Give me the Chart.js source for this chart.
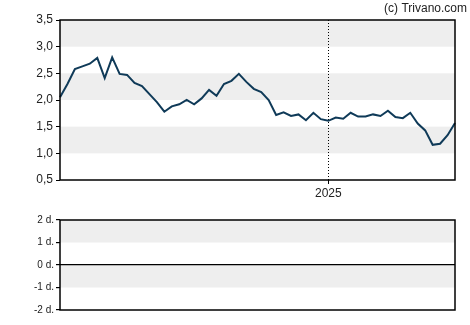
<!DOCTYPE html>
<html>
<head>
<meta charset="utf-8">
<script src="https://cdn.jsdelivr.net/npm/chart.js@4"></script>
<style>
  body { margin: 0; background: #fff; }
  #top { position: absolute; left: 0; top: 0; width: 470px; height: 200px; }
  #bottom { position: absolute; left: 0; top: 200px; width: 470px; height: 125px; }
</style>
</head>
<body>
<div id="top"><canvas id="priceChart"></canvas></div>
<div id="bottom"><canvas id="volChart"></canvas></div>
<script>
// weekly closes
const weeks = [
  '2024-04-22','2024-04-29','2024-05-06','2024-05-13','2024-05-20','2024-05-27','2024-06-03','2024-06-10',
  '2024-06-17','2024-06-24','2024-07-01','2024-07-08','2024-07-15','2024-07-22','2024-07-29','2024-08-05',
  '2024-08-12','2024-08-19','2024-08-26','2024-09-02','2024-09-09','2024-09-16','2024-09-23','2024-09-30',
  '2024-10-07','2024-10-14','2024-10-21','2024-10-28','2024-11-04','2024-11-11','2024-11-18','2024-11-25',
  '2024-12-02','2024-12-09','2024-12-16','2024-12-23','2025-01-06','2025-01-13','2025-01-20','2025-01-27',
  '2025-02-03','2025-02-10','2025-02-17','2025-02-24','2025-03-03','2025-03-10','2025-03-17','2025-03-24',
  '2025-03-31','2025-04-07','2025-04-14','2025-04-21','2025-04-28','2025-05-05'
];
const closes = [
  2.05, 2.30, 2.58, 2.63, 2.68, 2.79, 2.41, 2.80, 2.49, 2.47, 2.32, 2.26, 2.11, 1.96, 1.78, 1.88,
  1.92, 2.00, 1.92, 2.03, 2.19, 2.08, 2.30, 2.36, 2.49, 2.34, 2.21, 2.15, 2.00, 1.72, 1.77, 1.70,
  1.73, 1.62, 1.76, 1.64, 1.61, 1.67, 1.65, 1.76, 1.69, 1.69, 1.73, 1.70, 1.80, 1.68, 1.66, 1.76,
  1.56, 1.43, 1.16, 1.18, 1.34, 1.57
];
const priceTicks = [0.5, 1.0, 1.5, 2.0, 2.5, 3.0, 3.5];
const volTicks = [-2, -1, 0, 1, 2];

const yearIdx = weeks.findIndex(w => w.startsWith('2025'));
const FONT = 'Arial, "Liberation Sans", sans-serif';

const frame = {
  id: 'frame',
  beforeDraw(chart, args, opts) {
    const { ctx, chartArea: a, scales: { y } } = chart;
    const t = opts.ticks;
    ctx.save();
    ctx.fillStyle = '#eeeeee';
    for (let i = t.length - 1, k = 0; i > 0; i--, k++) {
      if (k % 2 === 0) {
        const y1 = y.getPixelForValue(t[i]);
        const y2 = y.getPixelForValue(t[i - 1]);
        ctx.fillRect(a.left, y1, a.right - a.left, y2 - y1);
      }
    }
    ctx.restore();
  },
  afterDraw(chart, args, opts) {
    const { ctx, chartArea: a } = chart;
    ctx.save();
    ctx.strokeStyle = '#000';
    ctx.lineWidth = 1.5;
    ctx.strokeRect(a.left, a.top, a.right - a.left, a.bottom - a.top);
    if (opts.credit) {
      ctx.fillStyle = '#222';
      ctx.font = '12px ' + FONT;
      ctx.textAlign = 'right';
      ctx.textBaseline = 'middle';
      ctx.fillText(opts.credit, 467, 9);
    }
    ctx.restore();
  }
};

new Chart(document.getElementById('priceChart'), {
  type: 'line',
  data: {
    labels: weeks,
    datasets: [{
      data: closes,
      borderColor: '#0f3a58',
      borderWidth: 2,
      pointRadius: 0,
      tension: 0
    }]
  },
  plugins: [frame],
  options: {
    responsive: true,
    maintainAspectRatio: false,
    animation: false,
    layout: { padding: { top: 20, right: 15, left: 0, bottom: 0 } },
    plugins: {
      legend: { display: false },
      tooltip: { enabled: false },
      frame: { ticks: priceTicks, credit: '(c) Trivano.com' }
    },
    scales: {
      x: {
        afterFit: s => { s.height = 20; },
        grid: {
          color: c => (c.index === yearIdx ? '#000' : 'transparent'),
          tickLength: 4
        },
        border: { display: false, dash: [1, 2] },
        ticks: {
          autoSkip: false,
          maxRotation: 0,
          padding: 2,
          color: '#222',
          font: { family: FONT, size: 12 },
          callback: (v, i) => (i === yearIdx ? weeks[i].slice(0, 4) : '')
        }
      },
      y: {
        min: 0.5,
        max: 3.5,
        afterFit: s => { s.width = 60; },
        afterBuildTicks: s => { s.ticks = priceTicks.map(v => ({ value: v })); },
        grid: { drawOnChartArea: false, color: '#000', tickLength: 4 },
        border: { display: false },
        ticks: {
          padding: 3,
          color: '#222',
          font: { family: FONT, size: 12 },
          callback: v => v.toFixed(1).replace('.', ',')
        }
      }
    }
  }
});

new Chart(document.getElementById('volChart'), {
  type: 'line',
  data: { labels: weeks, datasets: [{ data: [], borderWidth: 0 }] },
  plugins: [frame],
  options: {
    responsive: true,
    maintainAspectRatio: false,
    animation: false,
    layout: { padding: { top: 20, right: 15, left: 0, bottom: 15 } },
    plugins: {
      legend: { display: false },
      tooltip: { enabled: false },
      frame: { ticks: volTicks }
    },
    scales: {
      x: { display: false },
      y: {
        min: -2,
        max: 2,
        afterFit: s => { s.width = 60; },
        afterBuildTicks: s => { s.ticks = volTicks.map(v => ({ value: v })); },
        grid: {
          color: c => (c.tick && c.tick.value === 0 ? '#000' : 'transparent'),
          tickColor: '#000',
          lineWidth: 1.2,
          tickLength: 4
        },
        border: { display: false },
        ticks: {
          padding: 2,
          color: '#222',
          font: { family: FONT, size: 10 },
          callback: v => v + ' d.'
        }
      }
    }
  }
});
</script>
</body>
</html>
